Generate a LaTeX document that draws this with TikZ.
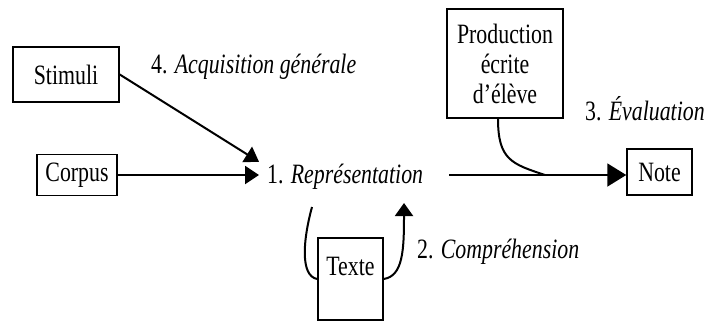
\documentclass[tikz,border=0pt]{standalone}
\usepackage{fontspec}
\setmainfont[FakeStretch=0.78]{Liberation Serif}
\usetikzlibrary{arrows.meta}
\begin{document}
\begin{tikzpicture}[x=1pt,y=-1pt, font=\fontsize{28}{30}\selectfont,
  box/.style={draw, line width=1.5pt, inner sep=0pt, align=center},
  lab/.style={inner sep=0pt, anchor=base west},
  conn/.style={line width=2pt},
  tipa/.style={-{Triangle[length=14pt,width=18pt]}},
  tipb/.style={-{Triangle[length=19pt,width=23pt]}}]
\useasboundingbox (0,0) rectangle (706,322);
% boxes
\node[box, minimum width=106pt, minimum height=55pt] (stim) at (66,74.5) {Stimuli};
\node[box, minimum width=80pt, minimum height=41pt] (corpus) at (77,175) {Corpus};
\node[box, minimum width=116pt, minimum height=109pt] (prod) at (505,63.5) {Production\\écrite\\d’élève};
\node[box, minimum width=65pt, minimum height=46pt] (note) at (659.5,172) {Note};
\node[box, minimum width=65pt, minimum height=82pt, text height=37pt, text depth=45pt] (texte) at (350.5,279) {Texte};
% central label
\node[inner xsep=8pt, inner ysep=0pt, text height=16pt, text depth=0pt, anchor=west] (rep) at (259,175) {1. \textit{Représentation}};
% labels
\node[lab] (lab4) at (151,73) {4. \textit{Acquisition générale}};
\node[lab] (lab2) at (417,258) {2. \textit{Compréhension}};
\node[lab] (lab3) at (585,120) {3. \textit{Évaluation}};
% coordinates
\coordinate (lstart) at (312,207);
\coordinate (rtip) at (404,203);
\coordinate (join) at (545,175);
% connectors
\draw[conn, tipa] (stim.east) -- ([yshift=5pt]rep.north west);
\draw[conn, tipa] (corpus.east) -- (corpus.east -| rep.west);
\draw[conn, tipb, shorten <=18pt] (rep.east) -- (rep.east -| note.west);
\draw[conn] ([xshift=-7pt]prod.south) .. controls (498,160) and (512,164) .. (join);
\draw[conn] (lstart) .. controls (303,240) and (300,276) .. (texte.west);
\draw[conn, -{Triangle[length=13pt,width=18pt]}] (texte.east) .. controls (403,276) and (404,250) .. (rtip);
\end{tikzpicture}
\end{document}
